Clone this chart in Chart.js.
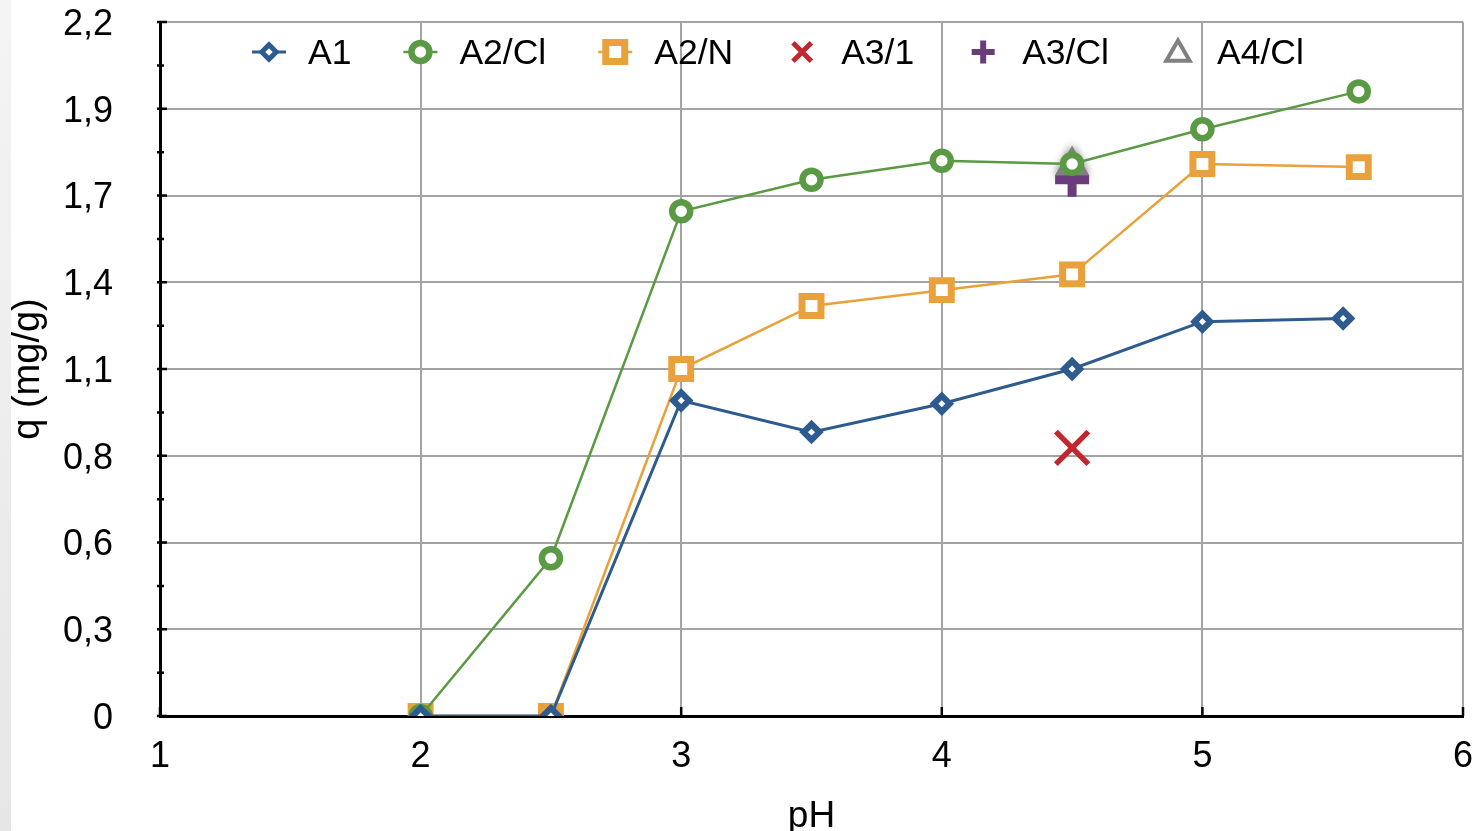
<!DOCTYPE html>
<html>
<head>
<meta charset="utf-8">
<title>q vs pH</title>
<script src="https://cdn.jsdelivr.net/npm/chart.js@4/dist/chart.umd.min.js"></script>
<style>
  html, body { margin: 0; padding: 0; background: #ffffff; }
  #wrap { position: relative; width: 1472px; height: 831px; overflow: hidden; }
  #edge { position: absolute; left: 0; top: 0; width: 11px; height: 831px;
          background: linear-gradient(#f4f4f4, #e6e6e6); }
  #c { position: absolute; left: 0; top: 0; }
</style>
</head>
<body>
<div id="wrap">
  <div id="edge"></div>
  <canvas id="c" width="1472" height="831"></canvas>
</div>
<script>
// ---- data: adsorbed amount q (mg/g) against pH ----
const seriesNames = ['A1', 'A2/Cl', 'A2/N', 'A3/1', 'A3/Cl', 'A4/Cl'];

const phA1 = [2, 2.5, 3, 3.5, 4, 4.5, 5, 5.54];
const qA1  = [0, 0, 1.0, 0.90, 0.99, 1.10, 1.25, 1.26];

const phA2Cl = [2, 2.5, 3, 3.5, 4, 4.5, 5, 5.6];
const qA2Cl  = [0, 0.50, 1.60, 1.70, 1.76, 1.75, 1.86, 1.98];

const phA2N = [2, 2.5, 3, 3.5, 4, 4.5, 5, 5.6];
const qA2N  = [0, 0, 1.10, 1.30, 1.35, 1.40, 1.75, 1.74];

const phA3_1 = [4.5];
const qA3_1  = [0.85];

const phA3Cl = [4.5];
const qA3Cl  = [1.70];

const phA4Cl = [4.5];
const qA4Cl  = [1.745];

// axis ticks
const xTicks = [1, 2, 3, 4, 5, 6];
const yTicks = [0, 0.275, 0.55, 0.825, 1.1, 1.375, 1.65, 1.925, 2.2];
const yTickLabels = ['0', '0,3', '0,6', '0,8', '1,1', '1,4', '1,7', '1,9', '2,2'];

// ---- styling ----
const FONT = "'Liberation Sans', Arial, sans-serif";
const BLUE = '#2d5b8f', GREEN = '#5b9a45', ORANGE = '#e9a23b',
      RED = '#c0282d', PURPLE = '#6b3b7b', GRAY = '#808080';
const GRID = '#a3a3a3';
// plot frame inside the 1472 x 831 canvas
const FRAME = { left: 160, top: 22, right: 1463, bottom: 716 };

function pts(xs, ys) { return xs.map((x, i) => ({ x: x, y: ys[i] })); }

function series(i, xs, ys, color, opts) {
  return Object.assign({
    label: seriesNames[i],
    data: pts(xs, ys),
    borderColor: color,
    backgroundColor: color,
    pointBorderColor: color,
    pointBackgroundColor: '#ffffff',
    pointHoverRadius: 0,
    tension: 0
  }, opts);
}

const datasets = [
  series(0, phA1, qA1, BLUE, { showLine: true, borderWidth: 3,
    pointStyle: 'rectRot', pointRadius: 7.9, pointBorderWidth: 6.2,
    legendMarker: { r: 7.2, w: 5, line: true } }),
  series(1, phA2Cl, qA2Cl, GREEN, { showLine: true, borderWidth: 2.5,
    pointStyle: 'circle', pointRadius: 9, pointBorderWidth: 6.5,
    legendMarker: { r: 9, w: 6.5, line: true } }),
  series(2, phA2N, qA2N, ORANGE, { showLine: true, borderWidth: 2.5,
    pointStyle: 'rect', pointRadius: 13.4, pointBorderWidth: 7,
    legendMarker: { r: 13.4, w: 7, line: true } }),
  series(3, phA3_1, qA3_1, RED, { showLine: false,
    pointStyle: 'crossRot', pointRadius: 23, pointBorderWidth: 5.5,
    legendMarker: { r: 13, w: 5, line: false } }),
  series(4, phA3Cl, qA3Cl, PURPLE, { showLine: false,
    pointStyle: 'cross', pointRadius: 17, pointBorderWidth: 9,
    legendMarker: { r: 11.5, w: 6, line: false } }),
  series(5, phA4Cl, qA4Cl, GRAY, { showLine: false,
    pointStyle: 'triangle', pointRadius: 16, pointBorderWidth: 4,
    glow: true,
    legendMarker: { r: 13.5, w: 4, line: false, dy: 2 } })
];

// path of a point symbol, same geometry as Chart.js point styles
function markerPath(ctx, style, x, y, r) {
  ctx.beginPath();
  if (style === 'rectRot') {
    ctx.moveTo(x, y - r); ctx.lineTo(x + r, y); ctx.lineTo(x, y + r); ctx.lineTo(x - r, y);
    ctx.closePath();
  } else if (style === 'circle') {
    ctx.arc(x, y, r, 0, Math.PI * 2);
  } else if (style === 'rect') {
    const s = r * Math.SQRT1_2;
    ctx.rect(x - s, y - s, 2 * s, 2 * s);
  } else if (style === 'triangle') {
    let a = 0;
    ctx.moveTo(x + Math.sin(a) * r, y - Math.cos(a) * r);
    a += 2 * Math.PI / 3;
    ctx.lineTo(x + Math.sin(a) * r, y - Math.cos(a) * r);
    a += 2 * Math.PI / 3;
    ctx.lineTo(x + Math.sin(a) * r, y - Math.cos(a) * r);
    ctx.closePath();
  } else if (style === 'crossRot') {
    const d = r * Math.SQRT1_2;
    ctx.moveTo(x - d, y - d); ctx.lineTo(x + d, y + d);
    ctx.moveTo(x - d, y + d); ctx.lineTo(x + d, y - d);
  } else if (style === 'cross') {
    ctx.moveTo(x - r, y); ctx.lineTo(x + r, y);
    ctx.moveTo(x, y - r); ctx.lineTo(x, y + r);
  }
}

// pin the plot frame and both axis boxes to fixed pixel bounds
const fixedFrame = {
  id: 'fixedFrame',
  afterLayout(chart) {
    const a = chart.chartArea;
    a.left = FRAME.left; a.top = FRAME.top; a.right = FRAME.right; a.bottom = FRAME.bottom;
    a.width = a.right - a.left; a.height = a.bottom - a.top;
    const xs = chart.scales.x, ys = chart.scales.y;
    xs.left = a.left; xs.right = a.right; xs.width = a.width;
    xs.top = a.bottom; xs.bottom = chart.height; xs.height = chart.height - a.bottom;
    ys.left = 0; ys.right = a.left; ys.width = a.left;
    ys.top = a.top; ys.bottom = a.bottom; ys.height = a.height;
    xs.configure(); ys.configure();
  }
};

// legend drawn inside the plot, along its top edge
const insideLegend = {
  id: 'insideLegend',
  afterDraw(chart) {
    const ctx = chart.ctx;
    const area = chart.chartArea;
    const fontSize = 35.5;
    const baseline = area.top + 42;
    const midY = area.top + 30;
    let x = area.left + 109;
    ctx.save();
    ctx.font = fontSize + 'px ' + FONT;
    ctx.textBaseline = 'alphabetic';
    ctx.textAlign = 'left';
    chart.data.datasets.forEach(ds => {
      const m = ds.legendMarker;
      const y = midY + (m.dy || 0);
      if (m.line) {
        ctx.strokeStyle = ds.borderColor;
        ctx.lineWidth = ds.borderWidth;
        ctx.beginPath();
        ctx.moveTo(x - 17, midY); ctx.lineTo(x + 17, midY);
        ctx.stroke();
      }
      ctx.lineWidth = m.w;
      ctx.strokeStyle = ds.pointBorderColor;
      ctx.fillStyle = '#ffffff';
      ctx.lineJoin = 'miter';
      markerPath(ctx, ds.pointStyle, x, y, m.r);
      if (ds.pointStyle !== 'cross' && ds.pointStyle !== 'crossRot') ctx.fill();
      ctx.stroke();
      ctx.fillStyle = '#000000';
      const tx = x + 39;
      ctx.fillText(ds.label, tx, baseline);
      x = tx + ctx.measureText(ds.label).width + 69;
    });
    ctx.restore();
  }
};

// tick marks on both axes (major + minor on q axis, inward marks on pH axis)
const axisMarks = {
  id: 'axisMarks',
  beforeDatasetsDraw(chart) {
    const ctx = chart.ctx;
    const xs = chart.scales.x, ys = chart.scales.y;
    const left = chart.chartArea.left, bottom = chart.chartArea.bottom;
    ctx.save();
    ctx.strokeStyle = '#000000';
    ctx.lineWidth = 2.5;
    ctx.beginPath();
    yTicks.forEach((v, i) => {
      const py = ys.getPixelForValue(v);
      ctx.moveTo(left - 3, py); ctx.lineTo(left + 7, py);
      if (i < yTicks.length - 1) {
        const pm = ys.getPixelForValue((v + yTicks[i + 1]) / 2);
        ctx.moveTo(left - 3, pm); ctx.lineTo(left + 4, pm);
      }
    });
    xTicks.forEach(v => {
      const px = xs.getPixelForValue(v);
      ctx.moveTo(px, bottom); ctx.lineTo(px, bottom - 9);
    });
    ctx.stroke();
    ctx.restore();
  },
  beforeDatasetDraw(chart, args) {
    const ds = chart.data.datasets[args.index];
    if (ds.glow) {
      chart.ctx.save();
      chart.ctx.shadowColor = 'rgba(0,0,0,0.45)';
      chart.ctx.shadowBlur = 10;
    }
  },
  afterDatasetDraw(chart, args) {
    const ds = chart.data.datasets[args.index];
    if (ds.glow) chart.ctx.restore();
  }
};

new Chart(document.getElementById('c'), {
  type: 'scatter',
  data: { datasets: datasets },
  plugins: [fixedFrame, axisMarks, insideLegend],
  options: {
    responsive: false,
    animation: false,
    events: [],
    layout: { padding: { top: 22, right: 9, left: 0, bottom: 0 } },
    plugins: { legend: { display: false }, tooltip: { enabled: false } },
    scales: {
      x: {
        type: 'linear',
        min: 1, max: 6,
        afterBuildTicks(s) { s.ticks = xTicks.map(v => ({ value: v })); },
        ticks: {
          color: '#000000',
          font: { family: FONT, size: 36 },
          padding: 19,
          maxRotation: 0,
          callback: v => String(v)
        },
        grid: {
          drawTicks: false,
          lineWidth: 2,
          color: c => (c.tick && c.tick.value === 1) ? 'rgba(0,0,0,0)' : GRID
        },
        border: { display: true, color: '#000000', width: 3 },
        title: {
          display: true, text: 'pH', color: '#000000',
          font: { family: FONT, size: 37, lineHeight: 1 },
          padding: { top: -4, bottom: -4 }
        }
      },
      y: {
        type: 'linear',
        min: 0, max: 2.2,
        afterBuildTicks(s) { s.ticks = yTicks.map(v => ({ value: v })); },
        ticks: {
          color: '#000000',
          font: { family: FONT, size: 36 },
          padding: 47,
          labelOffset: 3,
          callback: (v, i) => yTickLabels[i]
        },
        grid: {
          drawTicks: false,
          lineWidth: 2,
          color: c => (c.tick && c.tick.value === 0) ? 'rgba(0,0,0,0)' : GRID
        },
        border: { display: true, color: '#000000', width: 3 },
        title: {
          display: true, text: 'q (mg/g)', color: '#000000',
          font: { family: FONT, size: 38 },
          padding: { top: 6, bottom: 0 }
        }
      }
    }
  }
});
</script>
</body>
</html>
